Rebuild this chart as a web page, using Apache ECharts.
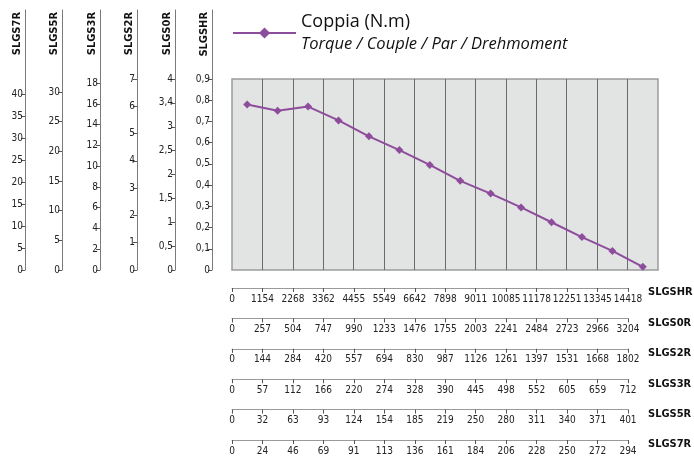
<!DOCTYPE html>
<html>
<head>
<meta charset="utf-8">
<script src="https://cdn.jsdelivr.net/npm/echarts@6/dist/echarts.min.js"></script>
<style>
  html, body { margin: 0; padding: 0; background: #fff; }
  #chart { width: 694px; height: 468px; }
</style>
</head>
<body>
<div id="chart"></div>
<script>
// torque curve (N.m), one point per speed band
const torque = [0.78, 0.75, 0.77, 0.705, 0.63, 0.565, 0.495, 0.42, 0.36, 0.295, 0.225, 0.155, 0.09, 0.015];

// gearbox models, top to bottom on the speed scales
const models = ['SLGSHR', 'SLGS0R', 'SLGS2R', 'SLGS3R', 'SLGS5R', 'SLGS7R'];

// speed scales (rpm) under the plot
const speedHR = [0, 1154, 2268, 3362, 4455, 5549, 6642, 7898, 9011, 10085, 11178, 12251, 13345, 14418];
const speed0R = [0, 257, 504, 747, 990, 1233, 1476, 1755, 2003, 2241, 2484, 2723, 2966, 3204];
const speed2R = [0, 144, 284, 420, 557, 694, 830, 987, 1126, 1261, 1397, 1531, 1668, 1802];
const speed3R = [0, 57, 112, 166, 220, 274, 328, 390, 445, 498, 552, 605, 659, 712];
const speed5R = [0, 32, 63, 93, 124, 154, 185, 219, 250, 280, 311, 340, 371, 401];
const speed7R = [0, 24, 46, 69, 91, 113, 136, 161, 184, 206, 228, 250, 272, 294];

// torque scales on the left
const ticksHR = [0, 0.1, 0.2, 0.3, 0.4, 0.5, 0.6, 0.7, 0.8, 0.9];
const labelsHR = ['0', '0,1', '0,2', '0,3', '0,4', '0,5', '0,6', '0,7', '0,8', '0,9'];
const ticks0R = [0, 0.5, 1, 1.5, 2, 2.5, 3, 3.5, 4];
const labels0R = ['0', '0,5', '1', '1,5', '2', '2,5', '3', '3,4', '4'];
const ticks2R = [0, 1, 2, 3, 4, 5, 6, 7];
const ticks3R = [0, 2, 4, 6, 8, 10, 12, 14, 16, 18];
const ticks5R = [0, 5, 10, 15, 20, 25, 30];
const ticks7R = [0, 5, 10, 15, 20, 25, 30, 35, 40];

// value of each torque scale at the top edge of the plot
const scaleTop = [0.9, 4, 7, 18.4, 32.2, 43.5];

const speeds = [speedHR, speed0R, speed2R, speed3R, speed5R, speed7R];
const ticks = [ticksHR, ticks0R, ticks2R, ticks3R, ticks5R, ticks7R];
const tickLabels = [labelsHR, labels0R, ticks2R, ticks3R, ticks5R, ticks7R].map((a) => a.map(String));

const narrow = "'Liberation Sans Narrow', 'DejaVu Sans Condensed', sans-serif";
const purple = '#8e4d9c';

// plot box
const plotLeft = 232, plotTop = 79, plotRight = 658, plotBottom = 270;
const scaleTopY = 10;
const axisX = [212, 175, 137, 100, 62, 25]; // left scales, same order as models
const rowY = 288, rowGap = 30.4;
const speedRight = 628;

const chart = echarts.init(document.getElementById('chart'), null, { renderer: 'canvas' });

const leftAxes = models.map((name, i) => {
  const max = scaleTop[i] * (plotBottom - scaleTopY) / (plotBottom - plotTop);
  const fmt = (v) => {
    const k = ticks[i].findIndex((t) => Math.abs(t - v) < 1e-6);
    return k < 0 ? '' : tickLabels[i][k];
  };
  return {
    type: 'value',
    gridIndex: 1,
    position: 'left',
    offset: axisX[0] - axisX[i],
    min: 0,
    max: max,
    name: name,
    nameLocation: 'end',
    nameGap: -2,
    nameRotate: 90,
    nameTextStyle: {
      fontFamily: narrow,
      fontWeight: 'bold',
      fontSize: 11,
      color: '#111',
      align: 'right',
      verticalAlign: 'bottom',
      padding: [0, 0, 2, 0],
    },
    axisLine: { show: true, lineStyle: { color: '#7a7a7a', width: 1 } },
    axisTick: { show: true, length: 4, customValues: ticks[i], lineStyle: { color: '#555' } },
    axisLabel: {
      customValues: ticks[i],
      formatter: fmt,
      margin: 2,
      hideOverlap: false,
      fontFamily: narrow,
      fontSize: 10,
      color: '#222',
    },
    splitLine: { show: false },
  };
});

const bottomAxes = models.map((name, i) => ({
  type: 'value',
  gridIndex: 2,
  position: 'bottom',
  offset: i * rowGap,
  min: 0,
  max: 13,
  interval: 1,
  name: name,
  nameLocation: 'end',
  nameGap: 20,
  nameTextStyle: {
    fontFamily: narrow,
    fontWeight: 'bold',
    fontSize: 11,
    color: '#111',
    verticalAlign: 'top',
    padding: [-1, 0, 0, 0],
  },
  axisLine: { show: true, lineStyle: { color: '#9a9a9a', width: 1 } },
  axisTick: { show: true, length: 4, lineStyle: { color: '#555' } },
  axisLabel: {
    margin: 6,
    hideOverlap: false,
    showMinLabel: true,
    showMaxLabel: true,
    fontFamily: narrow,
    fontSize: 10,
    color: '#222',
    formatter: (v) => String(speeds[i][Math.round(v)]),
  },
  splitLine: { show: false },
}));

const option = {
  animation: false,
  legend: {
    left: plotLeft,
    top: 13,
    padding: 0,
    itemWidth: 63,
    itemHeight: 14,
    data: ['Coppia (N.m)'],
    formatter: () => '{a|Coppia (N.m)}\n{b|Torque / Couple / Par / Drehmoment}',
    textStyle: {
      rich: {
        a: { fontFamily: 'Open Sans', fontSize: 18, lineHeight: 22, color: '#111' },
        b: { fontFamily: 'Open Sans', fontSize: 16.5, fontStyle: 'italic', lineHeight: 22, color: '#111' },
      },
    },
  },
  grid: [
    {
      left: plotLeft,
      top: plotTop,
      width: plotRight - plotLeft,
      height: plotBottom - plotTop,
      show: true,
      backgroundColor: '#e2e3e3',
      borderColor: '#9c9c9c',
      borderWidth: 1.5,
    },
    { left: axisX[0], top: scaleTopY, width: 1, height: plotBottom - scaleTopY },
    { left: plotLeft, top: 200, width: speedRight - plotLeft, height: rowY - 200 },
  ],
  xAxis: [
    {
      type: 'category',
      gridIndex: 0,
      data: torque.map((_, i) => String(i + 1)),
      boundaryGap: true,
      axisLine: { show: false },
      axisTick: { show: false },
      axisLabel: { show: false },
      splitLine: { show: true, showMinLine: false, showMaxLine: false, lineStyle: { color: '#6a6a6a', width: 1 } },
    },
    { type: 'value', gridIndex: 1, show: false },
    ...bottomAxes,
  ],
  yAxis: [
    { type: 'value', gridIndex: 0, min: 0, max: 0.9, show: false, splitLine: { show: false } },
    ...leftAxes,
    { type: 'value', gridIndex: 2, show: false },
  ],
  series: [
    {
      name: 'Coppia (N.m)',
      type: 'line',
      xAxisIndex: 0,
      yAxisIndex: 0,
      data: torque,
      symbol: 'diamond',
      symbolSize: 8,
      showAllSymbol: true,
      color: purple,
      lineStyle: { width: 2, color: purple },
      itemStyle: { color: purple },
    },
  ],
};

chart.setOption(option);
</script>
</body>
</html>
